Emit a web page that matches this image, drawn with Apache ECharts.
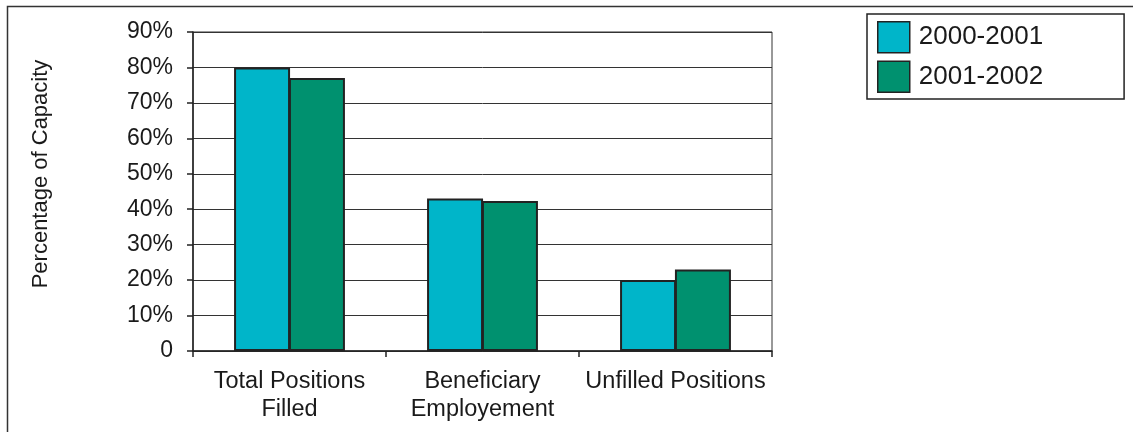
<!DOCTYPE html>
<html>
<head>
<meta charset="utf-8">
<script src="https://cdn.jsdelivr.net/npm/echarts@6/dist/echarts.min.js"></script>
<style>
html,body{margin:0;padding:0;background:#fff;}
#chart{width:1133px;height:432px;}
</style>
</head>
<body>
<div id="chart"></div>
<script>
const categories = ['Total Positions\nFilled', 'Beneficiary\nEmployement', 'Unfilled Positions'];
const seriesNames = ['2000-2001', '2001-2002'];
const values2000 = [80, 43, 20];
const values2001 = [77, 42.3, 23];
const yTicks = [0, 10, 20, 30, 40, 50, 60, 70, 80, 90];
const yAxisTitle = 'Percentage of Capacity';

const FONT = "'Liberation Sans', Arial, sans-serif";
const TXT = '#1a1a1a';
const chart = echarts.init(document.getElementById('chart'));
const barStyle = (c) => ({ color: c, borderColor: '#222', borderWidth: 2 });
chart.setOption({
  animation: false,
  backgroundColor: '#fff',
  textStyle: { fontFamily: FONT, color: TXT },
  grid: { left: 193, top: 32, right: 361, bottom: 81, show: true, borderColor: '#333', borderWidth: 1 },
  legend: {
    orient: 'vertical', left: 867, top: 14,
    padding: [7, 81, 6, 10],
    itemWidth: 32, itemHeight: 31, itemGap: 7,
    borderColor: '#222', borderWidth: 1.5,
    icon: 'rect',
    itemStyle: { borderColor: '#222', borderWidth: 1.5 },
    textStyle: { fontFamily: FONT, fontSize: 26, color: TXT, padding: [0, 0, 0, 4] },
    data: seriesNames
  },
  xAxis: {
    type: 'category', data: categories,
    axisLine: { lineStyle: { color: '#222', width: 1.5 } },
    axisTick: { show: true, length: 6, lineStyle: { color: '#222', width: 1.5 } },
    axisLabel: { fontFamily: FONT, fontSize: 23.5, color: TXT, lineHeight: 28, margin: 17, interval: 0 }
  },
  yAxis: {
    type: 'value', min: yTicks[0], max: yTicks[yTicks.length - 1], interval: 10,
    axisLine: { show: true, lineStyle: { color: '#222', width: 1.5 } },
    axisTick: { show: true, length: 6, lineStyle: { color: '#222', width: 1.5 } },
    splitLine: { lineStyle: { color: '#333', width: 1 } },
    axisLabel: { fontFamily: FONT, fontSize: 23, color: TXT, margin: 20,
      formatter: v => v === 0 ? '0' : v + '%' }
  },
  series: [
    { name: seriesNames[0], type: 'bar', data: values2000, barWidth: 56, barGap: '-2%', itemStyle: barStyle('#00B5C9') },
    { name: seriesNames[1], type: 'bar', data: values2001, barWidth: 56, barGap: '-2%', itemStyle: barStyle('#00916F') }
  ],
  graphic: [
    { type: 'rect', left: 5, top: 4, shape: { width: 1150, height: 450 }, style: { fill: 'none', stroke: '#333', lineWidth: 1.5 }, silent: true },
    { type: 'text', x: 41, y: 174, rotation: Math.PI / 2,
      style: { text: yAxisTitle, font: "22px 'Liberation Sans', Arial, sans-serif", fill: TXT, align: 'center', verticalAlign: 'middle' } }
  ]
});
</script>
</body>
</html>
